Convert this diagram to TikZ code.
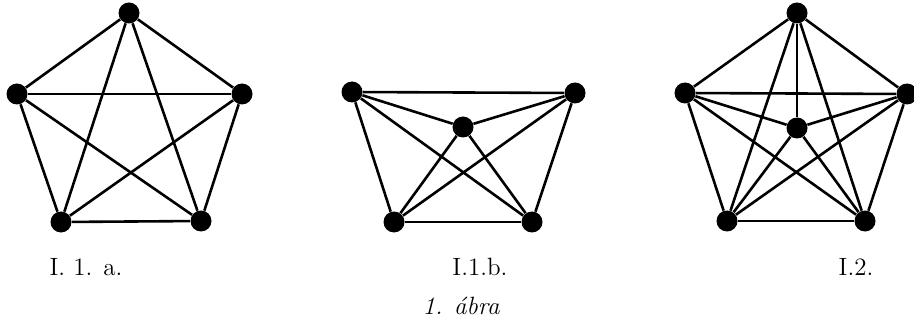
\documentclass[tikz,border=0pt]{standalone}
\begin{document}
\begin{tikzpicture}[x=0.5pt,y=-0.5pt,
  v/.style={circle,fill=black,inner sep=0pt,minimum size=10.5pt},
  e/.style={line width=1.3pt},
  lbl/.style={inner sep=0pt,anchor=base,font=\fontsize{12.5}{15}\selectfont}]
\useasboundingbox (0,0) rectangle (914,320);
\clip (0,0) rectangle (914,320);
% graph a
\node[v] (a1) at (129,13) {};
\node[v] (a2) at (17,94) {};
\node[v] (a3) at (242,94) {};
\node[v] (a4) at (61,222) {};
\node[v] (a5) at (201,221) {};
\foreach \p/\q in {a1/a2,a1/a3,a1/a4,a1/a5,a2/a3,a2/a4,a2/a5,a3/a4,a3/a5,a4/a5}
  \draw[e] (\p) -- (\q);
% graph b
\node[v] (b1) at (352,92) {};
\node[v] (b2) at (575,93) {};
\node[v] (b3) at (463,127) {};
\node[v] (b4) at (394,222) {};
\node[v] (b5) at (532,222) {};
\foreach \p/\q in {b1/b2,b1/b3,b1/b4,b1/b5,b2/b3,b2/b4,b2/b5,b3/b4,b3/b5,b4/b5}
  \draw[e] (\p) -- (\q);
% graph c
\node[v] (c1) at (797,13) {};
\node[v] (c2) at (685,93) {};
\node[v] (c3) at (907,94) {};
\node[v] (c4) at (797,128) {};
\node[v] (c5) at (727,221) {};
\node[v] (c6) at (865,221) {};
\foreach \p/\q in {c1/c2,c1/c3,c1/c4,c1/c5,c1/c6,c2/c3,c2/c4,c2/c5,c2/c6,c3/c4,c3/c5,c3/c6,c4/c5,c4/c6,c5/c6}
  \draw[e] (\p) -- (\q);
% labels
\node[lbl] (la) at (86,275) {I. 1. a.};
\node[lbl] (lb) at (480,275) {I.1.b.};
\node[lbl] (lc) at (856,275) {I.2.};
\node[lbl] (cap) at (461,314) {\itshape 1. ábra};
\end{tikzpicture}
\end{document}
